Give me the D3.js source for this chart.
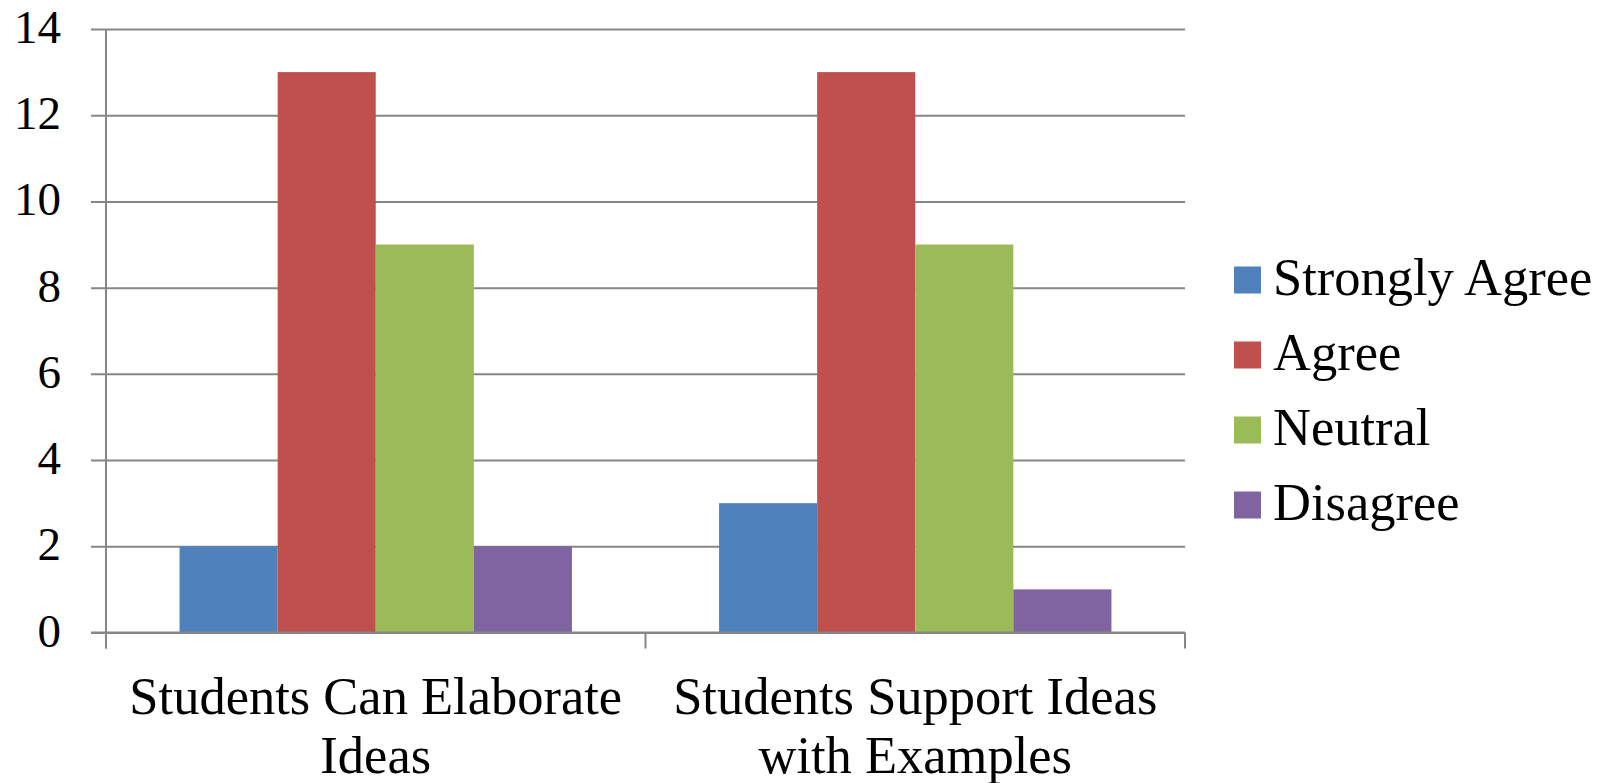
<!DOCTYPE html>
<html>
<head>
<meta charset="utf-8">
<script src="https://cdn.jsdelivr.net/npm/d3@7"></script>
<style>
  html, body { margin: 0; padding: 0; background: #ffffff; }
  svg { display: block; }
  text { font-family: "Liberation Serif", "DejaVu Serif", serif; fill: #000; }
</style>
</head>
<body>
<svg id="chart" width="1609" height="783"></svg>
<script>
const categories = [["Students Can Elaborate", "Ideas"], ["Students Support Ideas", "with Examples"]];
const seriesNames = ["Strongly Agree", "Agree", "Neutral", "Disagree"];
const seriesColors = ["#4F81BD", "#C0504D", "#9BBB59", "#8064A2"];
const strongly_agree = [2, 3];
const agree = [13, 13];
const neutral = [9, 9];
const disagree = [2, 1];
const yTicks = [0, 2, 4, 6, 8, 10, 12, 14];

(function () {
const seriesValues = [strongly_agree, agree, neutral, disagree];
const catKeys = categories.map((c, i) => i);

const svg = d3.select("#chart");
const pLeft = 106, pRight = 1185, pTop = 29, pBottom = 632.5;
const gridColor = "#868686";

const x0 = d3.scaleBand().domain(catKeys).range([pLeft, pRight]).padding(0);
const x1 = d3.scaleBand().domain(d3.range(seriesNames.length))
  .range([0, x0.bandwidth()]).paddingInner(0).paddingOuter(0.75);
const y = d3.scaleLinear().domain([0, 14]).range([pBottom, pTop]);

// gridlines (via axis)
const gy = svg.append("g").attr("transform", `translate(${pLeft - 15},0)`);
gy.call(d3.axisRight(y).tickValues(yTicks).tickSize(pRight - pLeft + 15).tickFormat(""));
gy.select(".domain").remove();
gy.selectAll(".tick line").attr("stroke", gridColor).attr("stroke-width", 2);

// bars
catKeys.forEach(ci => {
  seriesValues.forEach((vals, si) => {
    svg.append("rect")
      .attr("x", x0(ci) + x1(si))
      .attr("y", y(vals[ci]))
      .attr("width", x1.bandwidth())
      .attr("height", y(0) - y(vals[ci]))
      .attr("fill", seriesColors[si]);
  });
});

// y axis line
svg.append("line").attr("x1", pLeft).attr("x2", pLeft).attr("y1", pTop).attr("y2", pBottom + 16)
  .attr("stroke", gridColor).attr("stroke-width", 2);
// x axis baseline
svg.append("line").attr("x1", pLeft - 15).attr("x2", pRight).attr("y1", pBottom).attr("y2", pBottom)
  .attr("stroke", gridColor).attr("stroke-width", 2);
// x category boundary ticks
const bounds = catKeys.map(c => x0(c)).concat([x0(catKeys[catKeys.length - 1]) + x0.bandwidth()]);
svg.selectAll(".xtick").data(bounds).enter().append("line")
  .attr("x1", d => d).attr("x2", d => d).attr("y1", pBottom).attr("y2", pBottom + 16)
  .attr("stroke", gridColor).attr("stroke-width", 2);

// y tick labels
svg.selectAll(".ylab").data(yTicks).enter().append("text")
  .attr("x", 61).attr("y", d => y(d) + 14)
  .attr("text-anchor", "end").attr("font-size", 47)
  .text(d => d);

// category labels
categories.forEach((lines, ci) => {
  const cx = x0(ci) + x0.bandwidth() / 2;
  lines.forEach((ln, li) => {
    svg.append("text").attr("x", cx).attr("y", 714 + li * 59)
      .attr("text-anchor", "middle").attr("font-size", 52.5).text(ln);
  });
});

// legend
seriesNames.forEach((name, i) => {
  const cy = 280 + i * 75;
  svg.append("rect").attr("x", 1234).attr("y", cy - 13.5).attr("width", 27).attr("height", 27)
    .attr("fill", seriesColors[i]);
  svg.append("text").attr("x", 1273).attr("y", cy + 15).attr("font-size", 52.5).text(name);
});
})();
</script>
</body>
</html>
